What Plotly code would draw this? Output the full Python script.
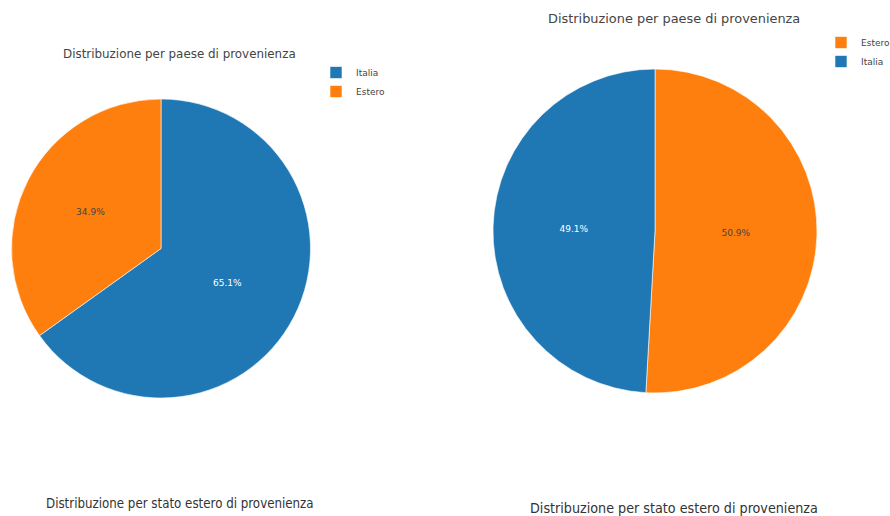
import plotly.graph_objects as go

# Data
left_labels = ["Italia", "Estero"]
left_values = [65.1, 34.9]
right_labels = ["Estero", "Italia"]
right_values = [50.9, 49.1]
title_top = "Distribuzione per paese di provenienza"
title_bottom = "Distribuzione per stato estero di provenienza"

BLUE = "#1f77b4"
ORANGE = "#ff7f0e"
color_map = {"Italia": BLUE, "Estero": ORANGE}

W, H = 890, 516

def px_x(x):
    return x / W

def px_y(y):
    return 1 - y / H

fig = go.Figure()

fig.add_trace(go.Pie(
    labels=left_labels, values=left_values,
    marker=dict(colors=[color_map[l] for l in left_labels], line=dict(color="white", width=0.6)),
    textinfo="percent", textfont=dict(size=9),
    domain=dict(x=[px_x(10), px_x(312)], y=[px_y(398), px_y(99)]),
    sort=False, direction="clockwise", legend="legend", legendgroup="left",
))

fig.add_trace(go.Pie(
    labels=right_labels, values=right_values,
    marker=dict(colors=[color_map[l] for l in right_labels], line=dict(color="white", width=0.6)),
    textinfo="percent", textfont=dict(size=9),
    domain=dict(x=[px_x(491), px_x(819)], y=[px_y(393), px_y(69)]),
    sort=False, direction="clockwise", legend="legend2", legendgroup="right",
))

font_main = "DejaVu Sans, Verdana, sans-serif"
font_cond = "DejaVu Sans Condensed, Liberation Sans Narrow, sans-serif"

annotations = [
    dict(text=title_top, x=px_x(179), y=px_y(54), xref="paper", yref="paper",
         showarrow=False, xanchor="center", yanchor="middle",
         font=dict(family=font_main, size=11.9, color="#444")),
    dict(text=title_top, x=px_x(674), y=px_y(19), xref="paper", yref="paper",
         showarrow=False, xanchor="center", yanchor="middle",
         font=dict(family=font_main, size=12.9, color="#444")),
    dict(text=title_bottom, x=px_x(180), y=px_y(503), xref="paper", yref="paper",
         showarrow=False, xanchor="center", yanchor="middle",
         font=dict(family=font_cond, size=13.2, color="#333")),
    dict(text=title_bottom, x=px_x(674), y=px_y(508), xref="paper", yref="paper",
         showarrow=False, xanchor="center", yanchor="middle",
         font=dict(family=font_cond, size=14.2, color="#333")),
]

fig.update_layout(
    width=W, height=H,
    margin=dict(l=0, r=0, t=0, b=0, autoexpand=False),
    paper_bgcolor="white", plot_bgcolor="white",
    font=dict(family=font_main, color="#444"),
    annotations=annotations,
    legend=dict(x=px_x(316), y=px_y(58), xanchor="left", yanchor="top",
                font=dict(size=9, color="#444"), tracegroupgap=0, itemwidth=30),
    legend2=dict(x=px_x(895), y=px_y(28), xanchor="right", yanchor="top",
                 font=dict(size=9, color="#444"), tracegroupgap=0, itemwidth=30),
)

fig.write_html("out.html")
